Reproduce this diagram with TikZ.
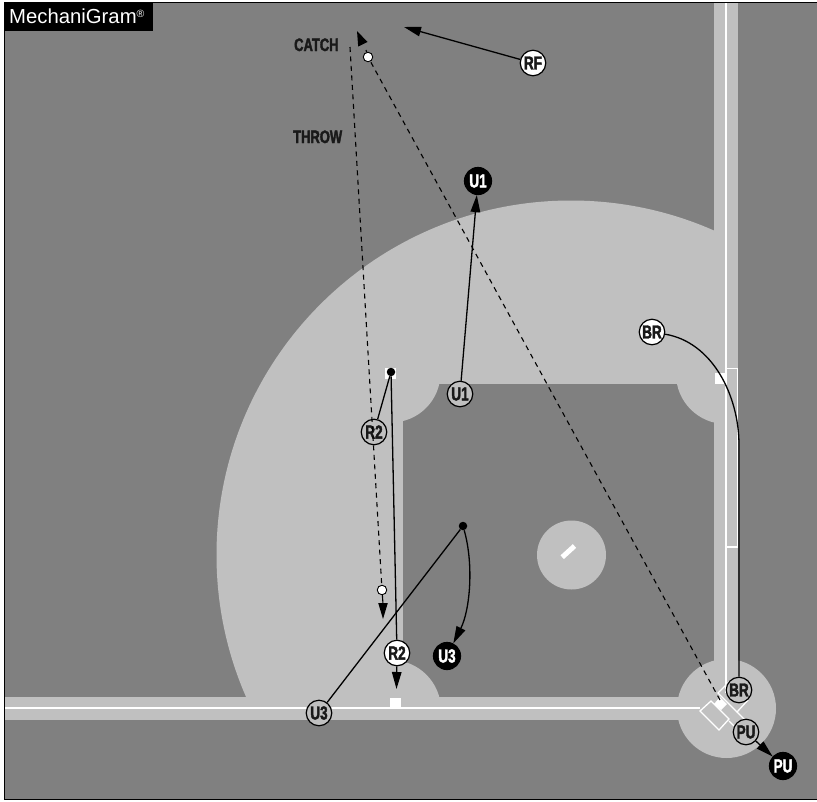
\documentclass[tikz,border=0pt]{standalone}
\usepackage{fontspec}
\setmainfont{Liberation Sans}
\newfontfamily\plfont[FakeStretch=0.72,FakeBold=2]{Liberation Sans}
\usetikzlibrary{arrows.meta}
\definecolor{fieldgray}{HTML}{808080}
\definecolor{dirt}{HTML}{C0C0C0}
\tikzset{
  player/.style={circle,draw=black,line width=1.2pt,minimum size=25.5pt,inner sep=0pt,font=\plfont\bfseries\fontsize{18.8}{18.8}\selectfont},
  start/.style={player,fill=dirt,text=black!90},
  active/.style={player,fill=white,text=black!90},
  final/.style={player,fill=black,draw=black,text=white,minimum size=27pt},
  bdot/.style={circle,fill=black,minimum size=8.5pt,inner sep=0pt},
  wdot/.style={circle,fill=white,draw=black,line width=0.9pt,minimum size=9.5pt,inner sep=0pt},
  lbl/.style={font=\plfont\bfseries\fontsize{18}{18}\selectfont,text=black!90,inner sep=0pt},
  run/.style={draw=black,line width=1.3pt},
  mv/.style={run,-{Triangle[length=17pt,width=9.5pt]}},
  thr/.style={draw=black,line width=1.1pt,dash pattern=on 5pt off 4.5pt},
  chalk/.style={draw=white,line width=1.3pt},
}
\begin{document}
\begin{tikzpicture}[x=1pt,y=-1pt]
\useasboundingbox (0,0) rectangle (817,801);
\fill[white] (0,0) rectangle (817,801);
\fill[fieldgray] (5,2) rectangle (817,799.5);
% outfield arc, limited by the strips
\begin{scope}
\clip (5,2) rectangle (714,697);
\fill[dirt] (571,555) circle[radius=354.5];
\end{scope}
% infield grass
\fill[fieldgray] (403,384) rectangle (714,697);
% base cut-outs
\begin{scope}
\clip (5,2) rectangle (714,697);
\fill[dirt] (391,373) circle[radius=49.5];
\fill[dirt] (726,374) circle[radius=50];
\fill[dirt] (391,710) circle[radius=50];
\end{scope}
% dirt strips
\fill[dirt] (5,697) rectangle (726,719.5);
\fill[dirt] (714,2) rectangle (737.5,708);
% home circle and mound
\fill[dirt] (726.5,708.5) circle[radius=49.5];
\fill[dirt] (571.5,555) circle[radius=34.5];
\draw[white,line width=5pt] (562.2,557.2) -- (574.5,546);
% chalk
\draw[chalk] (5,708) -- (700,708);
\draw[chalk] (726,2) -- (726,693);
\draw[chalk] (726,368.5) rectangle (737.5,547);
\draw[chalk] (700,711) -- (711,701) -- (729,719) -- (719,730) -- cycle;
\draw[chalk] (718,693) -- (729,682) -- (748,700) -- (737,712) -- cycle;
\draw[chalk] (737,712) -- (752,727);
\draw[chalk] (729,721) -- (744,736);
% bases
\fill[white] (715,373) rectangle (726,384);
\fill[white] (385,368) rectangle (396,379);
\fill[white] (390,698) rectangle (401,708);
\fill[white] (720,697) -- (714,704) -- (721,710) -- (727,704) -- cycle;
% frame: left, top and bottom only
\draw[black,line width=1.2pt] (817,2.3) -- (4.6,2.3) -- (4.6,799.8) -- (817,799.8);
\fill[black] (4,1.7) rectangle (153,30.5);
\node[anchor=base west,text=white,inner sep=0pt,font=\fontsize{20.3}{20.3}\selectfont] (brand) at (9,23.5) {MechaniGram\raisebox{6pt}{\fontsize{10.5}{10.5}\selectfont®}};
% labels
\node[lbl,anchor=base west] (catch) at (294,51) {CATCH};
\node[lbl,anchor=base west] (throw) at (293,143) {THROW};
% players
\node[active] (rf) at (533,63) {RF};
\node[final] (u1b) at (478,181) {U1};
\node[active] (brw) at (652,332) {BR};
\node[start] (r2g) at (374,432) {R2};
\node[start] (u1g) at (460,394) {U1};
\node[active] (r2w) at (397,653) {R2};
\node[final] (u3b) at (447,656) {U3};
\node[start] (u3g) at (319,713) {U3};
\node[start] (brg) at (739,690) {BR};
\node[start] (pug) at (746,732) {PU};
\node[final] (pub) at (783,766) {PU};
\node[bdot] (d1) at (391,372) {};
\node[bdot] (d2) at (463,526) {};
\node[wdot] (w1) at (368,57) {};
\node[wdot] (w2) at (382,590) {};
\coordinate (plate) at (720,700);
\coordinate (rftip) at (404,27);
\coordinate (r2tip) at (396.5,689);
\coordinate (catchtop) at (350,47);
% runs
\draw[mv] (rf) -- (rftip);
\draw[mv] (u1g) -- (u1b);
\draw[run] (r2g) -- (d1);
\draw[run] (d1) -- (r2w);
\draw[mv] (r2w) -- (r2tip);
\draw[run] (u3g) -- (d2);
\draw[mv] (d2) .. controls (474,565) and (470,610) .. (u3b);
\draw[run] (brw) .. controls (712,342) and (739,395) .. (739,445) -- (brg);
\draw[mv] (pug) -- (pub);
% throws
\draw[thr] (catchtop) -- (w2);
\draw[thr] (plate) -- (w1);
\draw[thr,dash pattern=on 4pt off 0pt] (w2) -- (383,604);
\fill[black] (383,619) -- (378.2,603) -- (387.8,603) -- cycle;
\draw[thr,dash pattern=on 2pt off 0pt] (w1) -- (366,50);
\fill[black] (357,31) -- (358.2,46.5) -- (367.5,42) -- cycle;
\end{tikzpicture}
\end{document}
